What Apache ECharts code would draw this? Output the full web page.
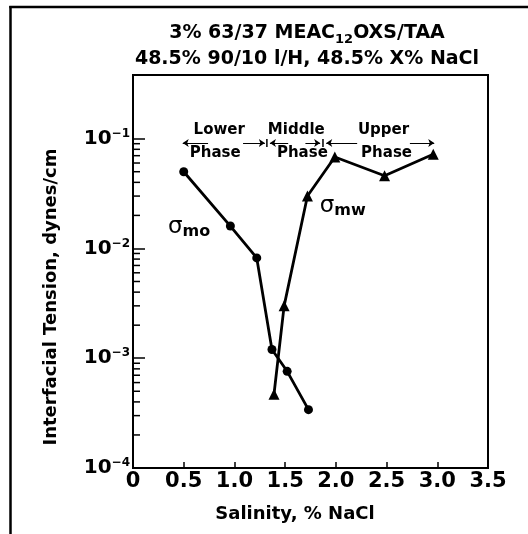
<!DOCTYPE html>
<html><head><meta charset="utf-8">
<script src="https://cdn.jsdelivr.net/npm/echarts@6/dist/echarts.min.js"></script>
<style>html,body{margin:0;padding:0;background:#fff}#c{width:528px;height:534px}</style>
</head><body><div id="c"></div>
<script>
// ---- data ----
const salinityMo = [0.50, 0.96, 1.22, 1.37, 1.52, 1.73];
const tensionMo  = [0.050, 0.016, 0.0082, 0.0012, 0.00076, 0.00034];
const salinityMw = [1.39, 1.49, 1.72, 1.99, 2.48, 2.96];
const tensionMw  = [0.00047, 0.0030, 0.030, 0.068, 0.046, 0.072];
const xTickLabels = ['0', '0.5', '1.0', '1.5', '2.0', '2.5', '3.0', '3.5'];
const yTickExponents = [-4, -3, -2, -1];
const phaseLabels = ['Lower', 'Phase', 'Middle', 'Phase', 'Upper', 'Phase'];
const phaseLabelX = [0.85, 0.81, 1.61, 1.67, 2.47, 2.50];
const phaseLabelY = [0.120, 0.074, 0.120, 0.074, 0.120, 0.074];
const phaseArrows = [[0.74, 0.49], [1.085, 1.30], [1.53, 1.35], [1.70, 1.845], [2.21, 1.905], [2.73, 2.97]];
const phaseArrowY = 0.0912;
const phaseBoundaries = [1.32, 1.873];
const curveNames = ['mo', 'mw'];
const curveLabelX = [0.345, 1.84];
const curveLabelY = [0.0157, 0.0243];

const FONT = '"DejaVu Sans", sans-serif';
const minorTickValues = [];
for (let d = -4; d <= -2; d++) for (let k = 2; k <= 9; k++) minorTickValues.push(k * Math.pow(10, d));

const chart = echarts.init(document.getElementById('c'), null, {renderer: 'canvas'});
chart.setOption({
  animation: false,
  backgroundColor: '#fff',
  grid: {left: 133, right: 40, top: 75, bottom: 66, containLabel: false, outerBoundsMode: 'none',
         show: true, borderColor: '#000', borderWidth: 2, backgroundColor: 'transparent'},
  xAxis: {
    type: 'value', min: 0, max: 3.5, interval: 0.5,
    axisLine: {show: true, lineStyle: {color: '#000', width: 2}},
    axisTick: {show: true, inside: true, length: 6, lineStyle: {color: '#000', width: 1.5}},
    splitLine: {show: false},
    axisLabel: {
      margin: 3, color: '#000', fontFamily: FONT, fontWeight: 'bold', fontSize: 21,
      formatter: v => xTickLabels[Math.round(v / 0.5)] || ''
    }
  },
  yAxis: {
    type: 'log', logBase: 10, min: 1e-4, max: Math.pow(10, -0.42),
    axisLine: {show: true, lineStyle: {color: '#000', width: 2}},
    axisTick: {show: true, inside: true, length: 12, lineStyle: {color: '#000', width: 1.5}},
    splitLine: {show: false},
    minorTick: {show: false},
    axisLabel: {
      margin: 3, color: '#000',
      formatter: v => {
        const e = Math.log10(v);
        const r = Math.round(e);
        if (Math.abs(e - r) > 1e-6 || yTickExponents.indexOf(r) < 0) return '';
        return '{b|10}{s|\u2212' + Math.abs(r) + '}';
      },
      rich: {
        b: {fontFamily: FONT, fontWeight: 'bold', fontSize: 20, color: '#000', lineHeight: 22},
        s: {fontFamily: FONT, fontWeight: 'bold', fontSize: 12, color: '#000', lineHeight: 12, verticalAlign: 'top'}
      }
    }
  },
  series: [
    {
      type: 'custom', name: 'minorTicks', silent: true, z: 1,
      data: minorTickValues.map(v => [0, v]),
      renderItem: (params, api) => {
        const p = api.coord([0, api.value(1)]);
        return {type: 'line', shape: {x1: p[0], y1: p[1], x2: p[0] + 7, y2: p[1]},
                style: {stroke: '#000', lineWidth: 1.5}};
      }
    },
    {
      type: 'line', name: 'sigma_mo', z: 5,
      data: salinityMo.map((x, i) => [x, tensionMo[i]]),
      symbol: 'circle', symbolSize: 9,
      lineStyle: {color: '#000', width: 2.8}, itemStyle: {color: '#000'}
    },
    {
      type: 'line', name: 'sigma_mw', z: 5,
      data: salinityMw.map((x, i) => [x, tensionMw[i]]),
      symbol: 'triangle', symbolSize: 11,
      lineStyle: {color: '#000', width: 2.8}, itemStyle: {color: '#000'}
    },
    {
      type: 'lines', coordinateSystem: 'cartesian2d', silent: true, z: 4,
      symbol: ['none', 'arrow'], symbolSize: 6,
      lineStyle: {color: '#000', width: 1.2, opacity: 1},
      data: phaseArrows.map(a => ({coords: [[a[0], phaseArrowY], [a[1], phaseArrowY]]}))
    },
    {
      type: 'custom', silent: true, z: 4,
      data: phaseBoundaries.map(b => [b, phaseArrowY]),
      renderItem: (params, api) => {
        const p = api.coord([api.value(0), api.value(1)]);
        return {type: 'line', shape: {x1: p[0], y1: p[1] - 4, x2: p[0], y2: p[1] + 4},
                style: {stroke: '#000', lineWidth: 1.5}};
      }
    },
    {
      type: 'scatter', silent: true, z: 6, symbolSize: 0, itemStyle: {opacity: 1, color: '#000'},
      data: phaseLabels.map((t, i) => ({name: t, value: [phaseLabelX[i], phaseLabelY[i]]})),
      label: {show: true, position: 'inside', formatter: p => p.name, opacity: 1,
              color: '#000', fontFamily: FONT, fontWeight: 'bold', fontSize: 15}
    },
    {
      type: 'scatter', silent: true, z: 6, symbolSize: 0, itemStyle: {opacity: 1, color: '#000'},
      data: curveNames.map((t, i) => ({name: t, value: [curveLabelX[i], curveLabelY[i]]})),
      label: {show: true, position: 'inside', align: 'left', opacity: 1, color: '#000',
              formatter: p => '{g|\u03c3}{m|' + p.name + '}',
              rich: {
                g: {fontFamily: FONT, fontSize: 23, color: '#000', lineHeight: 26},
                m: {fontFamily: FONT, fontWeight: 'bold', fontSize: 16, color: '#000', lineHeight: 18, verticalAlign: 'bottom'}
              }}
    }
  ],
  graphic: [
    {type: 'line', silent: true, shape: {x1: 10.5, y1: 6, x2: 10.5, y2: 534}, style: {stroke: '#000', lineWidth: 2.5}},
    {type: 'line', silent: true, shape: {x1: 9.3, y1: 7, x2: 528, y2: 7}, style: {stroke: '#000', lineWidth: 2.5}},
    {type: 'text', silent: true, x: 307, y: 20, style: {
      text: '{a|3% 63/37 MEAC}{s|12}{a|OXS/TAA}\n{a|48.5% 90/10 l/H, 48.5% X% NaCl}',
      align: 'center', verticalAlign: 'top',
      rich: {
        a: {fontFamily: FONT, fontWeight: 'bold', fontSize: 19, lineHeight: 26, fill: '#000', color: '#000'},
        s: {fontFamily: FONT, fontWeight: 'bold', fontSize: 13, lineHeight: 18, verticalAlign: 'bottom', fill: '#000', color: '#000'}
      }
    }},
    {type: 'text', silent: true, x: 51, y: 297, rotation: Math.PI / 2, style: {
      text: 'Interfacial Tension, dynes/cm', fill: '#000',
      font: 'bold 18px "DejaVu Sans", sans-serif', align: 'center', verticalAlign: 'middle'
    }},
    {type: 'text', silent: true, x: 295, y: 514, style: {
      text: 'Salinity, % NaCl', fill: '#000',
      font: 'bold 18px "DejaVu Sans", sans-serif', align: 'center', verticalAlign: 'middle'
    }}
  ]
});
</script></body></html>
